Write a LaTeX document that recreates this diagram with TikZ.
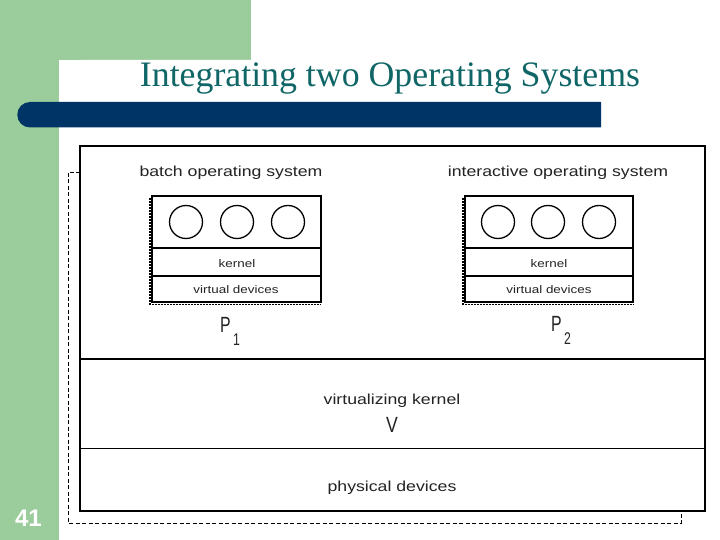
\documentclass[tikz,border=0pt]{standalone}
\usepackage{fontspec}
\setmainfont{Liberation Serif}
\newfontfamily\arialf{Liberation Sans}
\definecolor{slidegreen}{RGB}{155,204,155}
\definecolor{slideblue}{RGB}{0,51,102}
\definecolor{titleteal}{RGB}{16,102,102}
\definecolor{txtgray}{RGB}{35,35,35}
\newcommand{\wide}[1]{\scalebox{1.22}[1]{#1}}
\newcommand{\narrowbig}[2]{\scalebox{0.72}[1]{#1}\hspace{2.5pt}\raisebox{-13pt}{\scalebox{0.72}[1]{\fontsize{17}{19}\selectfont #2}}}
\tikzset{
  solidbox/.style={draw=black,line width=2pt},
  osbox/.style={draw=black,line width=1.6pt},
  shadowdash/.style={draw=black,line width=1.2pt,dash pattern=on 2pt off 1pt},
  outerdash/.style={draw=black,line width=0.8pt,dash pattern=on 4pt off 2.5pt},
  proc/.style={circle,draw=black,line width=1.3pt,minimum size=33pt,inner sep=0pt},
  lbl/.style={font=\arialf\fontsize{14.5}{16}\selectfont,text=txtgray,inner sep=0pt},
  small/.style={font=\arialf\fontsize{11}{13}\selectfont,text=txtgray,inner sep=0pt},
  big/.style={font=\arialf\fontsize{22}{24}\selectfont,text=txtgray,inner sep=0pt}
}
\begin{document}
\begin{tikzpicture}[x=1pt,y=-1pt]
\useasboundingbox (0,0) rectangle (720,540);
% background
\fill[slidegreen] (0,0) rectangle (251,60);
\fill[slidegreen] (0,0) rectangle (59,540);
\fill[white] (59,540) -- (59,82) arc[start angle=180,end angle=270,radius=22] -- (720,60) -- (720,540) -- cycle;
\fill[slideblue] (30,102) -- (601,102) -- (601,127.5) -- (30,127.5) arc[start angle=90,end angle=270,radius=12.75] -- cycle;
\node[font=\fontsize{35.8}{38}\selectfont,text=titleteal,inner sep=0pt] (title) at (390,79) {Integrating two Operating Systems};
\node[font=\fontsize{24}{26}\selectfont\bfseries\arialf,text=white,inner sep=0pt] (pagenum) at (28.5,518.5) {41};
% outer dashed
\draw[outerdash] (80,172) -- (68,172) -- (68,523) -- (681,523) -- (681,512);
% main box
\draw[solidbox] (80,146) rectangle (705,511);
\draw[line width=2pt] (80,359) -- (705,359);
\draw[line width=1pt] (80,448) -- (705,448);
% labels
\node[lbl] (bos) at (231,173) {\wide{batch operating system}};
\node[lbl] (ios) at (558,173) {\wide{interactive operating system}};
% P1
\draw[shadowdash] (150,198) -- (150,304.5) -- (321,304.5);
\draw[osbox] (152,196) rectangle (321,302);
\draw[line width=1.3pt] (152,248) -- (321,248);
\draw[line width=1.3pt] (152,276) -- (321,276);
\node[proc] (p1a) at (186,222) {};
\node[proc] (p1b) at (237,222) {};
\node[proc] (p1c) at (288,222) {};
\node[small] (k1) at (237,264) {\wide{kernel}};
\node[small] (vd1) at (236,290) {\wide{virtual devices}};
\node[big] (P1) at (230,331) {\narrowbig{P}{1}};
% P2
\draw[shadowdash] (463,198) -- (463,304.5) -- (633,304.5);
\draw[osbox] (465,196) rectangle (633,302);
\draw[line width=1.3pt] (465,248) -- (633,248);
\draw[line width=1.3pt] (465,276) -- (633,276);
\node[proc] (p2a) at (498,222) {};
\node[proc] (p2b) at (548,222) {};
\node[proc] (p2c) at (599,222) {};
\node[small] (k2) at (549,264) {\wide{kernel}};
\node[small] (vd2) at (549,290) {\wide{virtual devices}};
\node[big] (P2) at (561,330) {\narrowbig{P}{2}};
% lower layers
\node[lbl] (vk) at (392,401) {\wide{virtualizing kernel}};
\node[big] (V) at (392,424.5) {\scalebox{0.8}[1]{V}};
\node[lbl] (pd) at (392,488) {\wide{physical devices}};
\end{tikzpicture}
\end{document}
